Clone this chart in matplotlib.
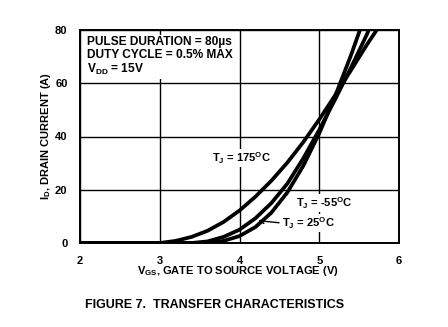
import matplotlib
matplotlib.use("Agg")
import matplotlib.pyplot as plt

plt.rcParams['font.family'] = ['Liberation Sans', 'DejaVu Sans']
plt.rcParams['mathtext.fontset'] = 'custom'
plt.rcParams['mathtext.rm'] = 'Liberation Sans:bold'
plt.rcParams['mathtext.it'] = 'Liberation Sans:bold'
plt.rcParams['mathtext.bf'] = 'Liberation Sans:bold'

# Data (V_GS in V, I_D in A)
vgs_175 = [2.0, 2.5, 3.0, 3.2, 3.4, 3.6, 3.8, 4.0, 4.2, 4.4, 4.6, 4.8, 5.0, 5.2, 5.4, 5.6, 5.72]
id_175 = [0, 0, 0, 0.8, 2.3, 4.6, 7.9, 12.2, 17.4, 23.4, 30.2, 37.9, 46.4, 55.5, 65.0, 74.6, 80]

vgs_25 = [2.0, 3.0, 3.4, 3.6, 3.8, 4.0, 4.2, 4.4, 4.6, 4.8, 5.0, 5.2, 5.4, 5.6, 5.62]
id_25 = [0, 0, 0, 0.6, 2.3, 5.0, 9.3, 15.0, 22.3, 31.8, 42.5, 54.0, 66.0, 78.5, 80]

vgs_m55 = [2.0, 3.0, 3.6, 3.8, 4.0, 4.2, 4.4, 4.6, 4.8, 5.0, 5.2, 5.4, 5.51]
id_m55 = [0, 0, 0, 0.8, 2.6, 6.0, 11.4, 19.0, 29.0, 41.2, 55.2, 70.7, 80]

x_ticks = [2, 3, 4, 5, 6]
y_ticks = [0, 20, 40, 60, 80]

W, H = 448, 327
fig = plt.figure(figsize=(W / 100, H / 100), dpi=100)
ax = fig.add_axes([80 / W, 1 - 243 / H, (399 - 80) / W, (243 - 30) / H])

ax.set_xlim(2, 6)
ax.set_ylim(0, 80)
ax.set_xticks(x_ticks)
ax.set_yticks(y_ticks)
ax.set_xticklabels([str(t) for t in x_ticks], fontsize=8, fontweight='bold')
ax.set_yticklabels([str(t) for t in y_ticks], fontsize=8, fontweight='bold')
ax.tick_params(length=0, pad=9)
ax.grid(True, color='black', linewidth=1.0, zorder=1)
ax.set_axisbelow(True)
for s in ax.spines.values():
    s.set_linewidth(1.4)
    s.set_zorder(5)

lw = 2.7
for v, i in [(vgs_175, id_175), (vgs_25, id_25), (vgs_m55, id_m55)]:
    ax.plot(v, i, color='black', linewidth=lw, solid_capstyle='butt',
            solid_joinstyle='round', zorder=4)

ax.text(2.09, 77.8, 'PULSE DURATION = 80\u00b5s\nDUTY CYCLE = 0.5% MAX\nV$_\\mathregular{DD}$ = 15V',
        fontsize=8.6, fontweight='bold', va='top', ha='left', linespacing=1.12,
        bbox=dict(facecolor='white', edgecolor='none', pad=1.5), zorder=3)

bbox = dict(facecolor='white', edgecolor='none', pad=0.8)
ax.text(3.66, 32, 'T$_\\mathregular{J}$ = 175$^\\mathregular{O}$C', fontsize=8, fontweight='bold',
        va='center', ha='left', bbox=bbox, zorder=3)
ax.text(4.71, 15, 'T$_\\mathregular{J}$ = -55$^\\mathregular{O}$C', fontsize=8, fontweight='bold',
        va='center', ha='left', bbox=bbox, zorder=3)
ax.text(4.53, 7.5, 'T$_\\mathregular{J}$ = 25$^\\mathregular{O}$C', fontsize=8, fontweight='bold',
        va='center', ha='left', bbox=bbox, zorder=3)
ax.annotate('', xy=(4.2, 8.5), xytext=(4.53, 7.5),
            arrowprops=dict(arrowstyle='->', color='black', lw=1.0, mutation_scale=8), zorder=6)

fig.text(238 / W, 1 - 271 / H, 'V$_\\mathregular{GS}$, GATE TO SOURCE VOLTAGE (V)',
         fontsize=8, fontweight='bold', ha='center', va='center')
fig.text(46 / W, 1 - 136 / H, 'I$_\\mathregular{D}$, DRAIN CURRENT (A)',
         fontsize=8, fontweight='bold', ha='center', va='center', rotation=90)
fig.text(215 / W, 1 - 305 / H, 'FIGURE 7.  TRANSFER CHARACTERISTICS',
         fontsize=9, fontweight='bold', ha='center', va='center')

fig.savefig('out.png', dpi=100, facecolor='white')
